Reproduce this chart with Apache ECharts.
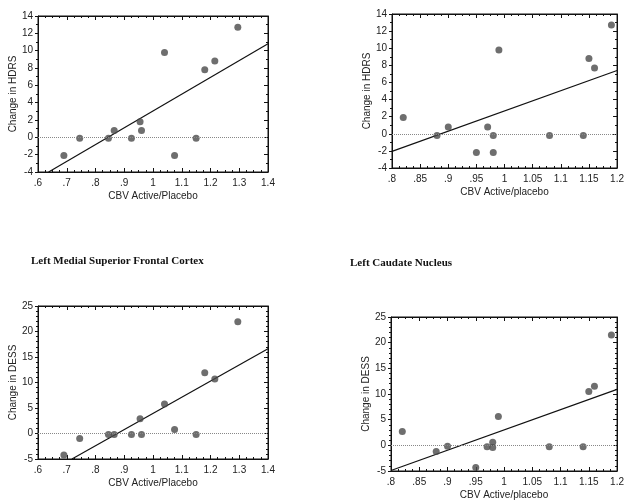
<!DOCTYPE html>
<html>
<head>
<meta charset="utf-8">
<script src="https://cdn.jsdelivr.net/npm/echarts@6/dist/echarts.min.js"></script>
<style>
  html, body { margin: 0; padding: 0; background: #fff; }
  #chart { width: 627px; height: 501px; }
</style>
</head>
<body>
<div id="chart"></div>
<script>
// values
var cbvFrontal = [0.69, 0.745, 0.845, 0.865, 0.925, 0.955, 0.96, 1.04, 1.075, 1.15, 1.18, 1.215, 1.295];
var hdrsFrontal = [-2.1, -0.1, -0.1, 0.8, -0.1, 1.8, 0.8, 9.8, -2.1, -0.1, 7.8, 8.8, 12.7];
var dessFrontal = [-4.2, -1.0, -0.2, -0.2, -0.2, 2.9, -0.2, 5.8, 0.8, -0.2, 11.9, 10.7, 21.9];

var cbvCaudate = [0.82, 0.88, 0.90, 0.95, 0.97, 0.98, 0.98, 0.99, 1.08, 1.14, 1.15, 1.16, 1.19];
var hdrsCaudate = [1.9, -0.2, 0.8, -2.2, 0.8, -0.2, -2.2, 9.8, -0.2, -0.2, 8.8, 7.7, 12.7];
var dessCaudate = [2.7, -1.2, -0.2, -4.3, -0.3, 0.6, -0.4, 5.6, -0.3, -0.3, 10.5, 11.5, 21.5];

// fitted lines, endpoints as drawn
var fitHdrsFrontal = [[0.637, -4], [1.4, 10.8]];
var fitDessFrontal = [[0.718, -5], [1.4, 16.6]];
var fitHdrsCaudate = [[0.8, -2.06], [1.2, 7.4]];
var fitDessCaudate = [[0.8, -4.9], [1.2, 10.9]];

var titles = ['Left Medial Superior Frontal Cortex', 'Left Caudate Nucleus'];

var panels = [
  { grid: { left: 38, top: 16, width: 230, height: 156 }, x: cbvFrontal, y: hdrsFrontal, fit: fitHdrsFrontal,
    xmin: 0.6, xmax: 1.4, xint: 0.1, ymin: -4, ymax: 14, yint: 2, ysplit: 2, xname: 'CBV Active/Placebo', yname: 'Change in HDRS' },
  { grid: { left: 392, top: 14, width: 231, height: 154 }, x: cbvCaudate, y: hdrsCaudate, fit: fitHdrsCaudate,
    xmin: 0.8, xmax: 1.2, xint: 0.05, ymin: -4, ymax: 14, yint: 2, ysplit: 2, xname: 'CBV Active/placebo', yname: 'Change in HDRS' },
  { grid: { left: 38, top: 306, width: 230, height: 153 }, x: cbvFrontal, y: dessFrontal, fit: fitDessFrontal,
    xmin: 0.6, xmax: 1.4, xint: 0.1, ymin: -5, ymax: 25, yint: 5, ysplit: 5, xname: 'CBV Active/Placebo', yname: 'Change in DESS' },
  { grid: { left: 391, top: 317, width: 231, height: 155 }, x: cbvCaudate, y: dessCaudate, fit: fitDessCaudate,
    xmin: 0.8, xmax: 1.2, xint: 0.05, ymin: -5, ymax: 25, yint: 5, ysplit: 5, xname: 'CBV Active/placebo', yname: 'Change in DESS' }
];

function fmtX(v) {
  var s = String(+v.toFixed(2));
  return s.replace(/^0\./, '.');
}

var font = 'Liberation Sans, Arial, sans-serif';
var ink = '#222';

var grids = [], xAxes = [], yAxes = [], series = [];

panels.forEach(function (p, i) {
  grids.push(Object.assign({ show: true, borderColor: '#111', borderWidth: 1, backgroundColor: 'transparent' }, p.grid));
  var xi = xAxes.length, yi = yAxes.length;
  var line = { show: true, onZero: false, lineStyle: { color: '#111', width: 1 } };
  var base = { type: 'value', gridIndex: i, min: p.xmin, max: p.xmax, interval: p.xint, splitLine: { show: false } };
  xAxes.push(Object.assign({}, base, {
    position: 'bottom', axisLine: line,
    axisTick: { inside: true, length: 4, lineStyle: { color: '#111' } },
    minorTick: { show: true, splitNumber: 4, length: 2, lineStyle: { color: '#111' } },
    axisLabel: { formatter: fmtX, fontSize: 10, color: ink, fontFamily: font, margin: 6 },
    name: p.xname, nameLocation: 'middle', nameGap: 19,
    nameTextStyle: { fontSize: 10, color: ink, fontFamily: font }
  }));
  xAxes.push(Object.assign({}, base, {
    position: 'top', axisLine: line,
    axisTick: { inside: true, length: 4, lineStyle: { color: '#111' } },
    minorTick: { show: true, splitNumber: 4, length: 2, lineStyle: { color: '#111' } },
    axisLabel: { show: false }
  }));
  var ybase = { type: 'value', gridIndex: i, min: p.ymin, max: p.ymax, interval: p.yint, splitLine: { show: false } };
  yAxes.push(Object.assign({}, ybase, {
    position: 'left', axisLine: line,
    axisTick: { inside: false, length: 3, lineStyle: { color: '#111' } },
    minorTick: { show: true, splitNumber: p.ysplit, length: 2, lineStyle: { color: '#111' } },
    axisLabel: { fontSize: 10, color: ink, fontFamily: font, margin: 5 },
    name: p.yname, nameLocation: 'middle', nameGap: 18, nameRotate: 90,
    nameTextStyle: { fontSize: 10, color: ink, fontFamily: font }
  }));
  yAxes.push(Object.assign({}, ybase, {
    position: 'right', axisLine: line,
    axisTick: { inside: true, length: 4, lineStyle: { color: '#111' } },
    minorTick: { show: true, splitNumber: p.ysplit, length: 2, lineStyle: { color: '#111' } },
    axisLabel: { show: false }
  }));

  var pts = p.x.map(function (v, k) { return [v, p.y[k]]; });
  series.push({
    type: 'scatter', xAxisIndex: xi, yAxisIndex: yi, data: pts,
    symbolSize: 7, itemStyle: { color: '#4a4a4a' }, z: 3,
    markLine: {
      silent: true, symbol: 'none', label: { show: false },
      lineStyle: { color: '#888', type: 'dotted', width: 1 },
      data: [{ yAxis: 0 }]
    }
  });
  series.push({
    type: 'line', xAxisIndex: xi, yAxisIndex: yi, data: p.fit,
    showSymbol: false, clip: true, lineStyle: { color: '#111', width: 1.2 }, z: 2
  });
});

var titleFont = { fontFamily: 'Liberation Serif, Times New Roman, serif', fontWeight: 'bold', fontSize: 11, color: '#111' };

var chart = echarts.init(document.getElementById('chart'));
chart.setOption({
  backgroundColor: '#fff',
  animation: false,
  title: [
    { text: titles[0], left: 31, top: 256, padding: 0, textStyle: titleFont },
    { text: titles[1], left: 350, top: 258, padding: 0, textStyle: titleFont }
  ],
  grid: grids,
  xAxis: xAxes,
  yAxis: yAxes,
  series: series
});
</script>
</body>
</html>
